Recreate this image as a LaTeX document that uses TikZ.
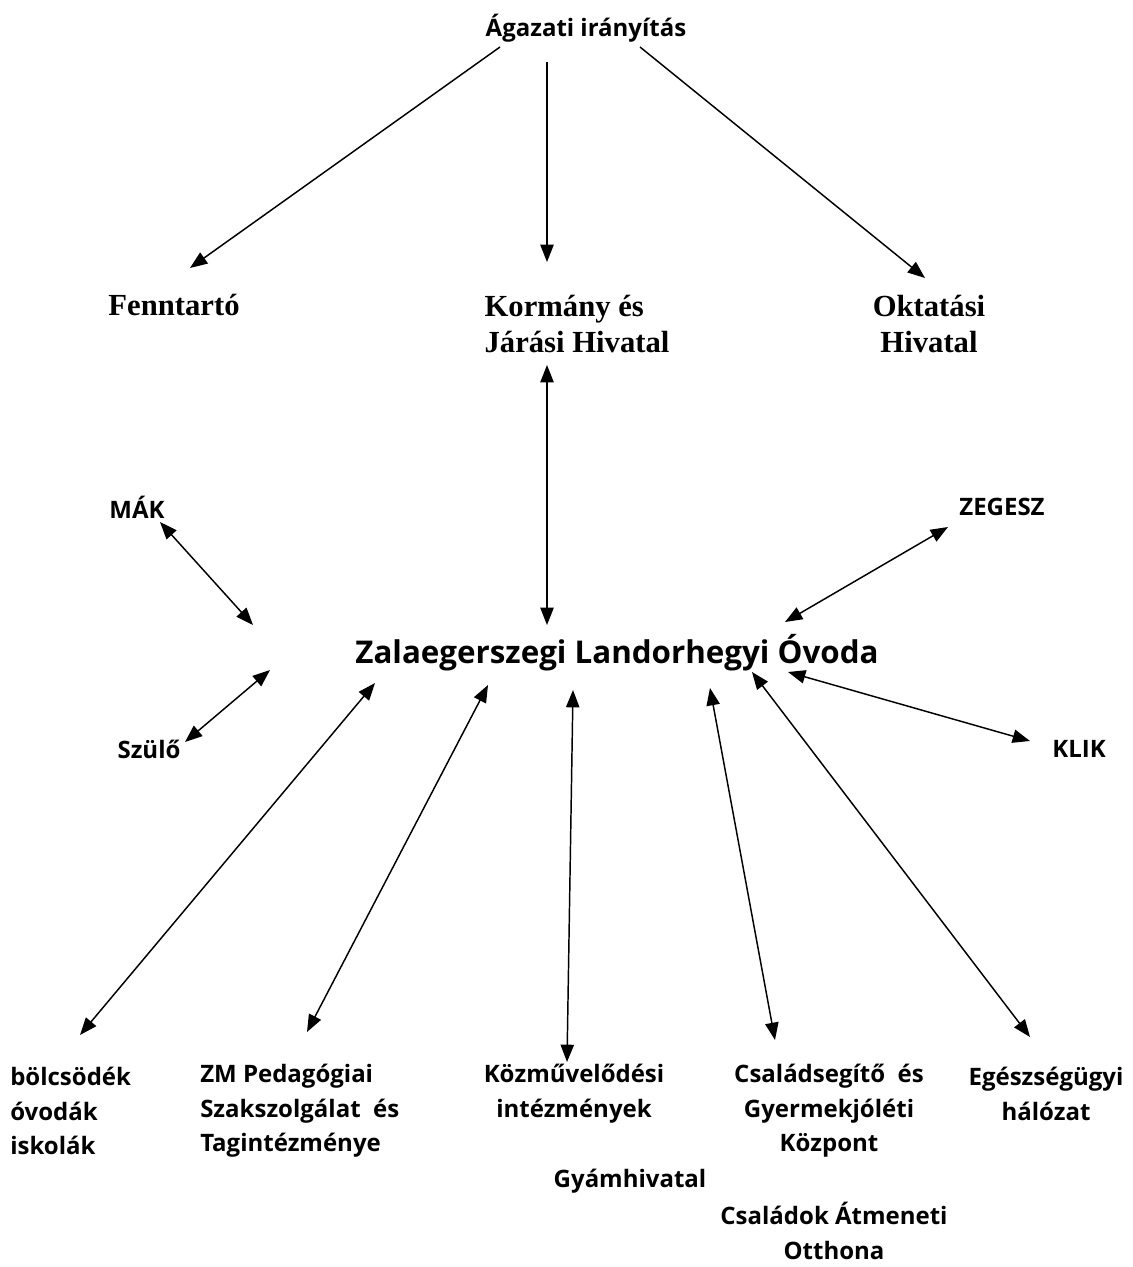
\documentclass[tikz,border=0pt]{standalone}
\usepackage{fontspec}
\setmainfont{Open Sans}
\newfontfamily\seriffam{Liberation Serif}
\usetikzlibrary{arrows.meta}
\tikzset{
  lbl/.style={font=\fontsize{18}{26}\selectfont\bfseries, inner sep=0pt, align=center},
  lbll/.style={lbl, align=left, anchor=west},
  srf/.style={font=\fontsize{23}{27.5}\selectfont\seriffam\bfseries, inner sep=0pt, align=center},
  ttl/.style={font=\fontsize{23.5}{31}\selectfont\bfseries, inner sep=0pt},
  arr/.style={line width=1.1pt, -{Triangle[length=13pt,width=10pt]}},
  darr/.style={line width=1.1pt, {Triangle[length=13pt,width=10pt]}-{Triangle[length=13pt,width=10pt]}}
}
\begin{document}
\begin{tikzpicture}[x=0.75pt,y=-0.75pt]
\useasboundingbox[fill=white] (0,0) rectangle (1132,1267);
\node[lbl] (agazati) at (586,28) {Ágazati irányítás};
\node[srf] (fenn) at (174,305) {Fenntartó};
\node[srf, align=left] (korm) at (577,324) {Kormány és\\Járási Hivatal};
\node[srf] (okt) at (929,324) {Oktatási\\Hivatal};
\node[lbl] (mak) at (137,507) {MÁK};
\node[lbl] (zeg) at (1002,507) {ZEGESZ};
\node[ttl] (ovoda) at (617,653) {Zalaegerszegi Landorhegyi Óvoda};
\node[lbl] (szulo) at (149,749) {Szülő};
\node[lbl] (klik) at (1079,749) {KLIK};
\node[lbll] (bolcs) at (10,1111) {bölcsödék\\óvodák\\iskolák};
\node[lbll] (zm) at (200,1111) {ZM Pedagógiai\\Szakszolgálat\ \ és\\Tagintézménye};
\node[lbl] (kozm) at (574,1094) {Közművelődési\\intézmények};
\node[lbl] (csal) at (829,1111) {Családsegítő\ \ és\\Gyermekjóléti\\Központ};
\node[lbl] (eg) at (1046,1094) {Egészségügyi\\hálózat};
\node[lbl] (gyam) at (630,1181) {Gyámhivatal};
\node[lbl] (csat) at (834,1231) {Családok Átmeneti\\Otthona};

\draw[arr] ([shift={(-86,19)}]agazati.center) -- ([shift={(16,-37)}]fenn.center);
\draw[arr] ([shift={(-39,34)}]agazati.center) -- ([shift={(-30,-62)}]korm.center);
\draw[arr] ([shift={(54,19)}]agazati.center) -- ([shift={(-4,-46)}]okt.center);
\draw[darr] ([shift={(-30,41)}]korm.center) -- ([shift={(-70,-28)}]ovoda.center);
\draw[darr] ([shift={(23,15)}]mak.center) -- ([shift={(-364,-28)}]ovoda.center);
\draw[darr] ([shift={(36,-7)}]szulo.center) -- ([shift={(-347,17)}]ovoda.center);
\draw[darr] ([shift={(-54,20)}]zeg.center) -- ([shift={(168,-31)}]ovoda.center);
\draw[darr] ([shift={(-49,-8)}]klik.center) -- ([shift={(171,19)}]ovoda.center);
\draw[darr] ([shift={(70,-76)}]bolcs.west) -- ([shift={(-242,30)}]ovoda.center);
\draw[darr] ([shift={(107,-79)}]zm.west) -- ([shift={(-129,32)}]ovoda.center);
\draw[darr] ([shift={(-7,-32)}]kozm.center) -- ([shift={(-44,37)}]ovoda.center);
\draw[darr] ([shift={(-54,-71)}]csal.center) -- ([shift={(93,35)}]ovoda.center);
\draw[darr] ([shift={(-16,-57)}]eg.center) -- ([shift={(135,19)}]ovoda.center);
\end{tikzpicture}
\end{document}
